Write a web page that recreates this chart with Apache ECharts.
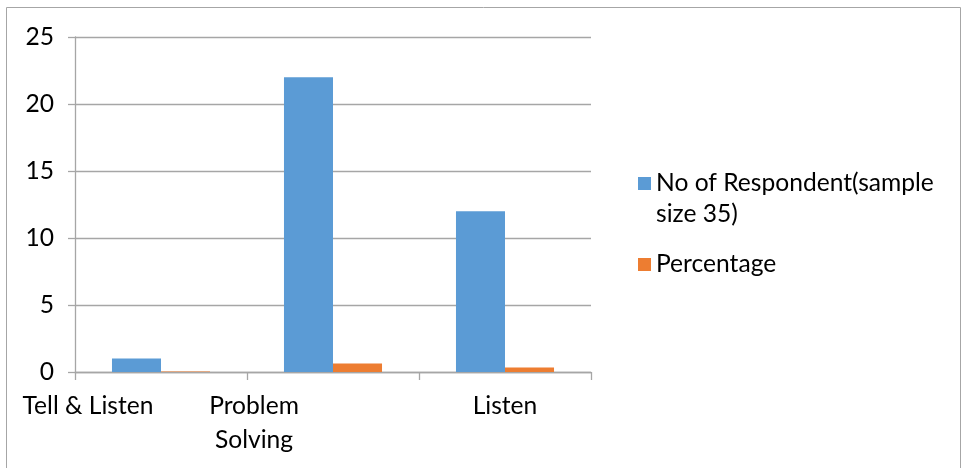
<!DOCTYPE html>
<html>
<head>
<meta charset="utf-8">
<script src="https://cdn.jsdelivr.net/npm/echarts@6/dist/echarts.min.js"></script>
<style>
  html, body { margin: 0; padding: 0; background: #fff; }
  #chart { width: 962px; height: 468px; }
</style>
</head>
<body>
<div id="chart"></div>
<script>
// Responses by communication style
const categories = ['Tell & Listen', 'Problem\nSolving', 'Listen'];
const respondents = [1, 22, 12];
const percentage = [0.03, 0.63, 0.34];
const seriesNames = ['No of Respondent(sample\nsize 35)', 'Percentage'];
const yTicks = { min: 0, max: 25, step: 5 };

const FONT = 'Lato';
const FONT_SIZE = 24.6;
const AXIS_GREY = '#a6a6a6';

// per-label horizontal nudges (right padding shifts a centred label left)
const labelPad = [[0, 146, 0, 0], [0, 158, 0, 0], [0, 0, 0, 0]];

const chart = echarts.init(document.getElementById('chart'), null, { renderer: 'canvas' });

chart.setOption({
  backgroundColor: '#ffffff',
  animation: false,
  textStyle: { fontFamily: FONT },
  grid: { left: 75, right: 371, top: 37, bottom: 96, containLabel: false },
  legend: {
    orient: 'vertical',
    left: 633,
    top: 132,
    itemWidth: 13,
    itemHeight: 13,
    itemGap: 19,
    icon: 'rect',
    data: seriesNames,
    // a leading blank line keeps the first text line level with the swatch
    formatter: name => name.indexOf('\n') >= 0 ? ' \n' + name : name,
    textStyle: { fontSize: FONT_SIZE, color: '#000', lineHeight: 31, fontFamily: FONT }
  },
  xAxis: {
    type: 'category',
    data: categories.map((c, i) => ({ value: c, textStyle: { padding: labelPad[i] } })),
    axisLine: { show: true, lineStyle: { color: AXIS_GREY, width: 1.3 } },
    axisTick: { show: true, alignWithLabel: false, length: 8, lineStyle: { color: AXIS_GREY, width: 1.3 } },
    axisLabel: { color: '#000', fontSize: FONT_SIZE, lineHeight: 34, margin: 17, interval: 0, fontFamily: FONT },
    splitLine: { show: false }
  },
  yAxis: {
    type: 'value',
    min: yTicks.min,
    max: yTicks.max,
    interval: yTicks.step,
    axisLine: { show: true, lineStyle: { color: AXIS_GREY, width: 1.3 } },
    axisTick: { show: true, length: 7, lineStyle: { color: AXIS_GREY, width: 1.3 } },
    axisLabel: { color: '#000', fontSize: FONT_SIZE, margin: 21, fontFamily: FONT },
    splitLine: { show: true, lineStyle: { color: AXIS_GREY, width: 1.3 } }
  },
  series: [
    {
      name: seriesNames[0],
      type: 'bar',
      data: respondents,
      itemStyle: { color: '#5b9bd5' },
      barGap: '0%',
      barCategoryGap: '43%'
    },
    {
      name: seriesNames[1],
      type: 'bar',
      data: percentage,
      itemStyle: { color: '#ed7d31' },
      barGap: '0%',
      barCategoryGap: '43%'
    }
  ],
  graphic: [
    {
      type: 'rect',
      silent: true,
      shape: { x: 6.5, y: 7.5, width: 954, height: 480 },
      style: { fill: null, stroke: '#a6a6a6', lineWidth: 1 }
    }
  ]
});
</script>
</body>
</html>
